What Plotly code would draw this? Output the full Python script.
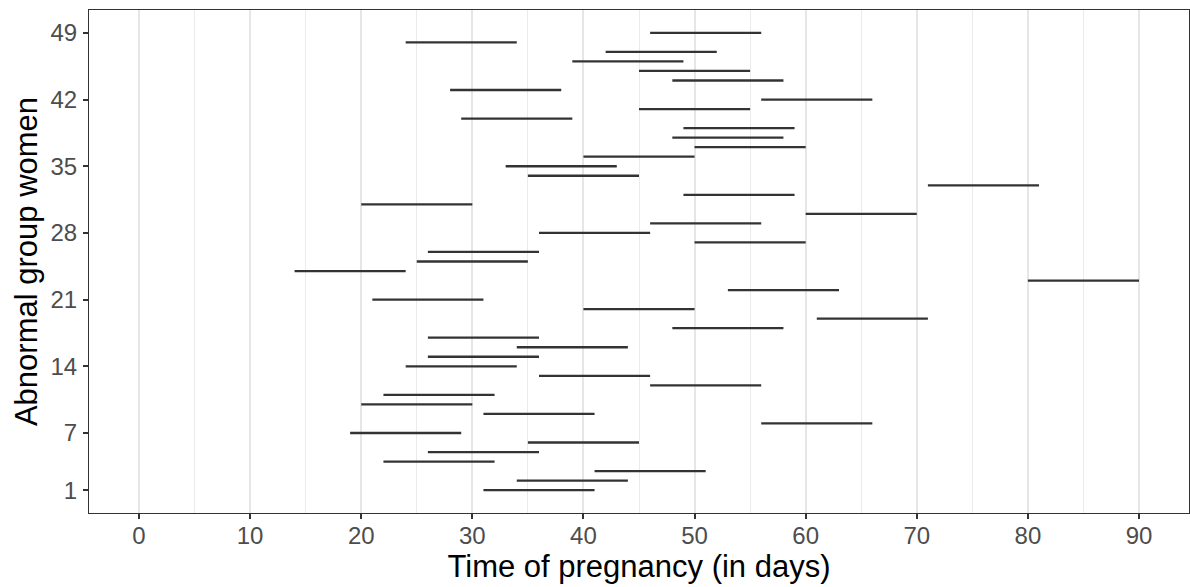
import plotly.graph_objects as go

# Women (row index) and the start / end day of each exposure window
women = list(range(1, 50))
start_day = [31, 34, 41, 22, 26, 35, 19, 56, 31, 20,
             22, 46, 36, 24, 26, 34, 26, 48, 61, 40,
             21, 53, 80, 14, 25, 26, 50, 36, 46, 60,
             20, 49, 71, 35, 33, 40, 50, 48, 49, 29,
             45, 56, 28, 48, 45, 39, 42, 24, 46]
end_day = [41, 44, 51, 32, 36, 45, 29, 66, 41, 30,
           32, 56, 46, 34, 36, 44, 36, 58, 71, 50,
           31, 63, 90, 24, 35, 36, 60, 46, 56, 70,
           30, 59, 81, 45, 43, 50, 60, 58, 59, 39,
           55, 66, 38, 58, 55, 49, 52, 34, 56]

x_ticks = [0, 10, 20, 30, 40, 50, 60, 70, 80, 90]
y_ticks = [1, 7, 14, 21, 28, 35, 42, 49]

xs, ys = [], []
for w, s, e in zip(women, start_day, end_day):
    xs += [s, e, None]
    ys += [w, w, None]

fig = go.Figure()
fig.add_trace(go.Scatter(x=xs, y=ys, mode="lines",
                         line=dict(color="#333333", width=2.3),
                         hoverinfo="skip", showlegend=False))

font_family = "Liberation Sans, Arial, Helvetica, sans-serif"
fig.update_layout(
    width=1190, height=587,
    margin=dict(l=89, r=1, t=10, b=74),
    paper_bgcolor="white", plot_bgcolor="white",
    font=dict(family=font_family, color="#4D4D4D", size=24),
    xaxis=dict(
        range=[-4.5, 94.5], tickvals=x_ticks, ticktext=[str(v) for v in x_ticks],
        showgrid=True, gridcolor="#E6E6E6", gridwidth=2,
        minor=dict(dtick=5, tick0=0, showgrid=True, gridcolor="#EBEBEB", gridwidth=1, ticks=""),
        zeroline=False, showline=True, linecolor="#333333", linewidth=1, mirror=True,
        ticks="outside", ticklen=5, tickwidth=2, tickcolor="#333333",
        ticklabelstandoff=-4,
        tickfont=dict(size=24, color="#4D4D4D"),
        title=dict(text="Time of pregnancy (in days)", font=dict(size=31, color="black"), standoff=5),
    ),
    yaxis=dict(
        range=[-1.4, 51.4], tickvals=y_ticks, ticktext=[str(v) for v in y_ticks],
        showgrid=False, zeroline=False,
        showline=True, linecolor="#333333", linewidth=1, mirror=True,
        ticks="outside", ticklen=5, tickwidth=2, tickcolor="#333333",
        ticklabelstandoff=1,
        tickfont=dict(size=24, color="#4D4D4D"),
        title=dict(text="Abnormal group women", font=dict(size=31, color="black"), standoff=3),
    ),
)

fig.write_html(
    "out.html",
    config={"displayModeBar": False, "staticPlot": True},
    post_script="document.body.style.margin='0';document.body.style.overflow='hidden';",
)
